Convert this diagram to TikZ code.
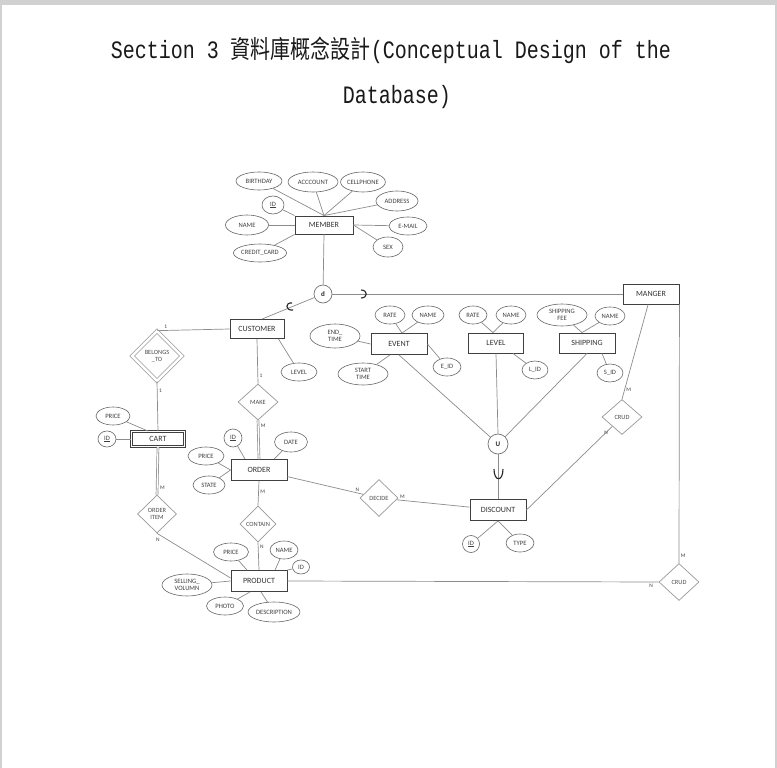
\documentclass[tikz,border=0pt]{standalone}
\usepackage{fontspec}
\setsansfont{Carlito}
\setmonofont{Liberation Mono}
\newfontfamily\cjk{Noto Sans CJK TC}
\usetikzlibrary{shapes.geometric}

\begin{document}
\begin{tikzpicture}[x=1pt, y=-1pt,
    title/.style={inner sep=0pt, text=black!90, font=\ttfamily\fontsize{20}{24}\selectfont},
    entity/.style={rectangle, draw=black!75, line width=0.9pt, inner sep=0pt, minimum width=56pt, minimum height=20pt, text=black!80, font=\sffamily\fontsize{8}{8}\selectfont},
    attr/.style={ellipse, draw=black!60, line width=0.6pt, inner sep=0pt, minimum width=#1, minimum height=18pt, align=center, text=black!75, font=\sffamily\fontsize{6.6}{6.8}\selectfont},
    attr/.default=34pt,
    rel/.style={diamond, draw=black!40, line width=0.7pt, inner sep=0pt, align=center, text=black!70, font=\sffamily\fontsize{6.4}{6.8}\selectfont},
    junction/.style={circle, draw=black!55, line width=0.7pt, inner sep=0pt, minimum size=#1, text=black!85, font=\sffamily\bfseries\fontsize{7}{7}\selectfont},
    card/.style={inner sep=1.5pt, text=black!75, font=\sffamily\fontsize{5.4}{5.6}\selectfont},
    link/.style={draw=black!45, line width=0.7pt},
    subset/.style={draw=black!85, line width=1.1pt}]

    \useasboundingbox (0,0) rectangle (777,768);
    \fill[black!18] (0,0) rectangle (777,768);
    \fill[white] (2,5) rectangle (775,768);

    \node[title] (title1) at (391,50) {\scalebox{1}[1.25]{Section 3 {\cjk 資料庫概念設計}(Conceptual Design of the}};
    \node[title] (title2) at (397,97) {\scalebox{1}[1.25]{Database)}};

    \node[entity, minimum width=58pt, minimum height=18pt] (member) at (324,225) {MEMBER};
    \node[entity, minimum width=54pt, minimum height=19pt] (cust) at (257,329) {CUSTOMER};
    \node[entity] (manger) at (651,294) {MANGER};
    \node[entity, minimum height=21pt] (event) at (399,344) {EVENT};
    \node[entity, minimum width=55pt] (level) at (496,343) {LEVEL};
    \node[entity] (ship) at (587,343) {SHIPPING};
    \node[entity, double, double distance=1.5pt, minimum width=53pt, minimum height=15pt] (cart) at (158,439) {CART};
    \node[entity, minimum height=21pt] (order) at (259,470) {ORDER};
    \node[entity, minimum height=21pt] (disc) at (498,510) {DISCOUNT};
    \node[entity, minimum height=21pt] (prod) at (259,581) {PRODUCT};

    \node[junction=18pt] (dcirc) at (323,294) {d};
    \node[junction=20pt] (ucirc) at (498,444) {U};

    \node[rel, double, double distance=2.5pt, minimum width=50pt, minimum height=50pt] (belong) at (157,356) {BELONGS\\\_TO};
    \node[rel, minimum width=40pt, minimum height=36pt] (make) at (258,402) {MAKE};
    \node[rel, minimum width=39pt, minimum height=38pt] (oitem) at (157,514) {ORDER\\ITEM};
    \node[rel, minimum width=36pt, minimum height=36pt] (contain) at (258,524) {CONTAIN};
    \node[rel, minimum width=38pt, minimum height=37pt] (decide) at (379,498) {DECIDE};
    \node[rel, minimum width=40pt, minimum height=35pt] (crud1) at (622,417) {CRUD};
    \node[rel, minimum width=40pt, minimum height=37pt] (crud2) at (679,582) {CRUD};

    \node[attr=46pt] (bday) at (259,181) {BIRTHDAY};
    \node[attr=50pt, minimum height=20pt] (acct) at (313,182) {ACCCOUNT};
    \node[attr=44pt, minimum height=20pt] (cell) at (363,182) {CELLPHONE};
    \node[attr=22pt] (mid) at (273,205) {\underline{ID}};
    \node[attr=42pt, minimum height=20pt] (addr) at (397,201) {ADDRESS};
    \node[attr=43pt, minimum height=20pt] (mname) at (247,225) {NAME};
    \node[attr=38pt] (email) at (408,226) {E-MAIL};
    \node[attr=30pt, minimum height=20pt] (sex) at (388,247) {SEX};
    \node[attr=50pt] (ccard) at (260,253) {CREDIT\_CARD};

    \node[attr=36pt] (clevel) at (299,372) {LEVEL};

    \node[attr=34pt] (cprice) at (113,416) {PRICE};
    \node[attr=18pt, minimum height=16pt] (cid) at (107,439) {\underline{ID}};

    \node[attr=18pt] (oid) at (233,438) {\underline{ID}};
    \node[attr=33pt, minimum height=20pt] (odate) at (291,442) {DATE};
    \node[attr=36pt] (oprice) at (206,456) {PRICE};
    \node[attr=32pt] (ostate) at (209,485) {STATE};

    \node[attr=35pt] (pprice) at (231,552) {PRICE};
    \node[attr=28pt] (pname) at (284,550) {NAME};
    \node[attr=17pt, minimum height=14pt] (pid) at (301,567) {ID};
    \node[attr=50pt, minimum height=22pt] (psell) at (187,585) {SELLING\_\\VOLUMN};
    \node[attr=37pt] (pphoto) at (225,606) {PHOTO};
    \node[attr=52pt, minimum height=20pt] (pdesc) at (274,612) {DESCRIPTION};

    \node[attr=30pt] (erate) at (390,315) {RATE};
    \node[attr=32pt] (ename) at (428,315) {NAME};
    \node[attr=50pt, minimum height=24pt] (eend) at (335,336) {END\_\\TIME};
    \node[attr=50pt, minimum height=22pt] (estart) at (363,374) {START\\TIME};
    \node[attr=28pt] (eid) at (447,367) {E\_ID};

    \node[attr=28pt] (lrate) at (473,315) {RATE};
    \node[attr=30pt] (lname) at (511,315) {NAME};
    \node[attr=26pt] (lid) at (535,370) {L\_ID};

    \node[attr=50pt, minimum height=22pt] (sfee) at (562,315) {SHIPPING\\FEE};
    \node[attr=30pt] (sname) at (610,316) {NAME};
    \node[attr=26pt] (sid) at (610,373) {S\_ID};

    \node[attr=17pt, minimum height=17pt] (did) at (471,544) {\underline{ID}};
    \node[attr=28pt] (dtype) at (520,543) {TYPE};

    \path[link]
        (bday) edge (member.north)
        (acct) edge (member.north)
        (cell) edge (member.north)
        (addr) edge (member.north)
        (mid) edge (member.north west)
        (mname) edge (member.west)
        (ccard) edge (member.south west)
        (email) edge (member.east)
        (sex) edge (member.east)
        (member.south) edge (dcirc)
        (dcirc) edge ([xshift=5pt]cust.north)
        (dcirc) edge (manger.west)
        ([xshift=-6pt]cust.south east) edge (clevel)
        (cust.west) edge node[card, pos=0.88, above] {1} (belong.north)
        (belong.south) edge node[card, pos=0.19, right] {1} (cart.north)
        (cprice) edge ([xshift=-10pt]cart.north)
        (cid) edge (cart.west)
        (cust.south) edge node[card, pos=0.82, right] {1} (make.north)
        (make.south) edge[double, double distance=1.2pt] node[card, pos=0.14, right=1pt] {M} (order.north)
        (cart.south) edge[double, double distance=1.2pt] node[card, pos=0.85, right=1pt] {M} (oitem.north)
        (oitem.south) edge node[card, pos=0.06, below left] {N} ([yshift=3pt]prod.west)
        (oid) edge ([xshift=-14pt]order.north)
        (odate) edge ([xshift=15pt]order.north)
        (oprice) edge (order.west)
        (ostate) edge (order.west)
        (order.south) edge node[card, pos=0.45, right] {M} (contain.north)
        (contain.south) edge node[card, pos=0.15, right] {N} (prod.north)
        (order) edge node[card, pos=0.92, above] {N} (decide)
        (decide) edge node[card, pos=0.08, above] {M} (disc)
        (pprice) edge ([xshift=-12pt]prod.north)
        (pname) edge ([xshift=16pt]prod.north)
        (pid) edge (prod.north east)
        (psell) edge (prod.west)
        (pphoto) edge ([xshift=-9pt]prod.south)
        (pdesc) edge ([xshift=2pt]prod.south)
        (prod.east) edge node[card, pos=0.98, below] {N} (crud2.west)
        (crud2.north) edge node[card, pos=0.03, right] {M} (manger.south east)
        (manger) edge node[card, pos=0.9, right] {M} (crud1.north)
        (crud1) edge node[card, pos=0.03, below left] {N} (disc.east)
        (erate) edge ([xshift=3pt]event.north)
        (ename) edge ([xshift=3pt]event.north)
        (eend) edge (event.west)
        (estart) edge ([xshift=-9pt]event.south)
        (eid) edge (event.east)
        (lrate) edge ([xshift=-3pt]level.north)
        (lname) edge ([xshift=-3pt]level.north)
        (lid) edge ([xshift=17pt]level.south)
        (sfee) edge ([xshift=-5pt]ship.north)
        (sname) edge ([xshift=-5pt]ship.north)
        (sid) edge ([xshift=15pt]ship.south)
        (event.south) edge (ucirc)
        (level.south) edge (ucirc.north)
        (ship.south) edge (ucirc)
        (ucirc.south) edge (disc.north)
        (did) edge (disc.south)
        (dtype) edge (disc.south);

    \draw[subset] (292,303) .. controls (285,302) and (285,311) .. (293,310);
    \draw[subset] (361,290) .. controls (368,290) and (368,298) .. (361,298);
    \draw[subset] (494,469) .. controls (494,482) and (503,482) .. (503,469);
\end{tikzpicture}
\end{document}
